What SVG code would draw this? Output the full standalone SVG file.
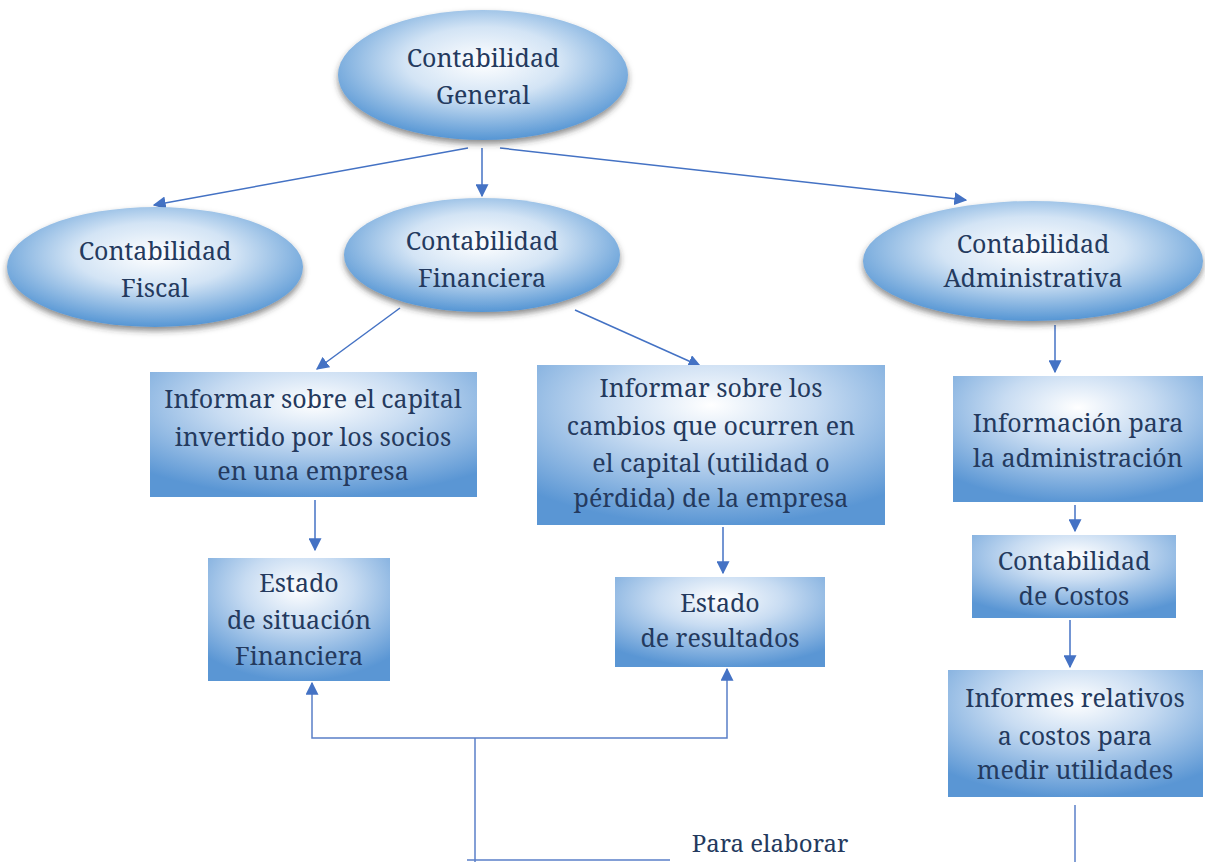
<svg xmlns="http://www.w3.org/2000/svg" width="1205" height="862" viewBox="0 0 1205 862">
<defs>
<radialGradient id="gE" cx="0.5" cy="0.4" r="0.6">
<stop offset="0" stop-color="#ffffff"/>
<stop offset="0.45" stop-color="#d3e4f5"/>
<stop offset="1" stop-color="#5696d4"/>
</radialGradient>
<radialGradient id="gB" cx="0.5" cy="0.25" r="0.75">
<stop offset="0" stop-color="#ffffff"/>
<stop offset="0.4" stop-color="#c8dcf2"/>
<stop offset="1" stop-color="#5a96d4"/>
</radialGradient>
<filter id="sh" x="-10%" y="-10%" width="120%" height="130%">
<feDropShadow dx="0" dy="4" stdDeviation="3" flood-color="#333" flood-opacity="0.55"/>
</filter>
<marker id="ar" viewBox="0 0 10 10" refX="9" refY="5" markerWidth="13" markerHeight="13" markerUnits="userSpaceOnUse" orient="auto">
<path d="M0,0 L10,5 L0,10 z" fill="#4472c4"/>
</marker>
</defs>
<style>
.e{fill:url(#gE);filter:url(#sh)}
.b{fill:url(#gB)}
.t{font-family:"Noto Serif","DejaVu Serif",serif;font-size:25px;fill:#243a5e;text-anchor:middle}
.c{fill:none;stroke:#4472c4;stroke-width:1.5}
.l{fill:none;stroke:#5a7fc8;stroke-width:1.5}
</style>
<rect width="1205" height="862" fill="#ffffff"/>
<g id="connectors">
<line class="c" x1="468" y1="148" x2="154" y2="205" marker-end="url(#ar)"/>
<line class="c" x1="482" y1="148" x2="482" y2="196" marker-end="url(#ar)"/>
<line class="c" x1="500" y1="148" x2="966" y2="200" marker-end="url(#ar)"/>
<line class="c" x1="400" y1="308" x2="317" y2="369" marker-end="url(#ar)"/>
<line class="c" x1="575" y1="310" x2="700" y2="366" marker-end="url(#ar)"/>
<line class="c" x1="1055" y1="325" x2="1055" y2="372" marker-end="url(#ar)"/>
<line class="c" x1="315" y1="500" x2="315" y2="550" marker-end="url(#ar)"/>
<line class="c" x1="723" y1="527" x2="723" y2="573" marker-end="url(#ar)"/>
<line class="c" x1="1075" y1="505" x2="1075" y2="531" marker-end="url(#ar)"/>
<line class="c" x1="1070" y1="620" x2="1070" y2="667" marker-end="url(#ar)"/>
<polyline class="l" points="475,862 475,738"/>
<polyline class="l" points="475,738 312,738 312,683" marker-end="url(#ar)"/>
<polyline class="l" points="475,738 727,738 727,669" marker-end="url(#ar)"/>
<line class="l" x1="467" y1="860" x2="670" y2="860"/>
<line class="l" x1="1075" y1="805" x2="1075" y2="862"/>
</g>
<g id="n-general">
<ellipse class="e" cx="483" cy="75" rx="145" ry="65"/>
<text class="t" x="483" y="67">Contabilidad</text>
<text class="t" x="483" y="104">General</text>
</g>
<g id="n-fiscal">
<ellipse class="e" cx="155" cy="267" rx="148" ry="60"/>
<text class="t" x="155" y="260">Contabilidad</text>
<text class="t" x="155" y="297">Fiscal</text>
</g>
<g id="n-financiera">
<ellipse class="e" cx="482" cy="255" rx="138" ry="57"/>
<text class="t" x="482" y="250">Contabilidad</text>
<text class="t" x="482" y="287">Financiera</text>
</g>
<g id="n-administrativa">
<ellipse class="e" cx="1033" cy="261" rx="170" ry="60"/>
<text class="t" x="1033" y="253">Contabilidad</text>
<text class="t" x="1033" y="287">Administrativa</text>
</g>
<g id="n-capital">
<rect class="b" x="150" y="372" width="327" height="125"/>
<text class="t" x="313" y="408">Informar sobre el capital</text>
<text class="t" x="313" y="446">invertido por los socios</text>
<text class="t" x="313" y="480">en una empresa</text>
</g>
<g id="n-cambios">
<rect class="b" x="537" y="365" width="348" height="160"/>
<text class="t" x="711" y="397">Informar sobre los</text>
<text class="t" x="711" y="435">cambios que ocurren en</text>
<text class="t" x="711" y="472">el capital (utilidad o</text>
<text class="t" x="711" y="507">pérdida) de la empresa</text>
</g>
<g id="n-situacion">
<rect class="b" x="208" y="558" width="182" height="123"/>
<text class="t" x="299" y="592">Estado</text>
<text class="t" x="299" y="629">de situación</text>
<text class="t" x="299" y="665">Financiera</text>
</g>
<g id="n-resultados">
<rect class="b" x="615" y="577" width="210" height="90"/>
<text class="t" x="720" y="612">Estado</text>
<text class="t" x="720" y="647">de resultados</text>
</g>
<g id="n-informacion">
<rect class="b" x="953" y="376" width="250" height="126"/>
<text class="t" x="1078" y="432">Información para</text>
<text class="t" x="1078" y="467">la administración</text>
</g>
<g id="n-costos">
<rect class="b" x="972" y="535" width="204" height="83"/>
<text class="t" x="1074" y="570">Contabilidad</text>
<text class="t" x="1074" y="605">de Costos</text>
</g>
<g id="n-informes">
<rect class="b" x="948" y="670" width="255" height="127"/>
<text class="t" x="1075" y="707">Informes relativos</text>
<text class="t" x="1075" y="745">a costos para</text>
<text class="t" x="1075" y="779">medir utilidades</text>
</g>
<g id="label">
<text class="t" x="770" y="852" style="font-size:24px">Para elaborar</text>
</g>
</svg>
